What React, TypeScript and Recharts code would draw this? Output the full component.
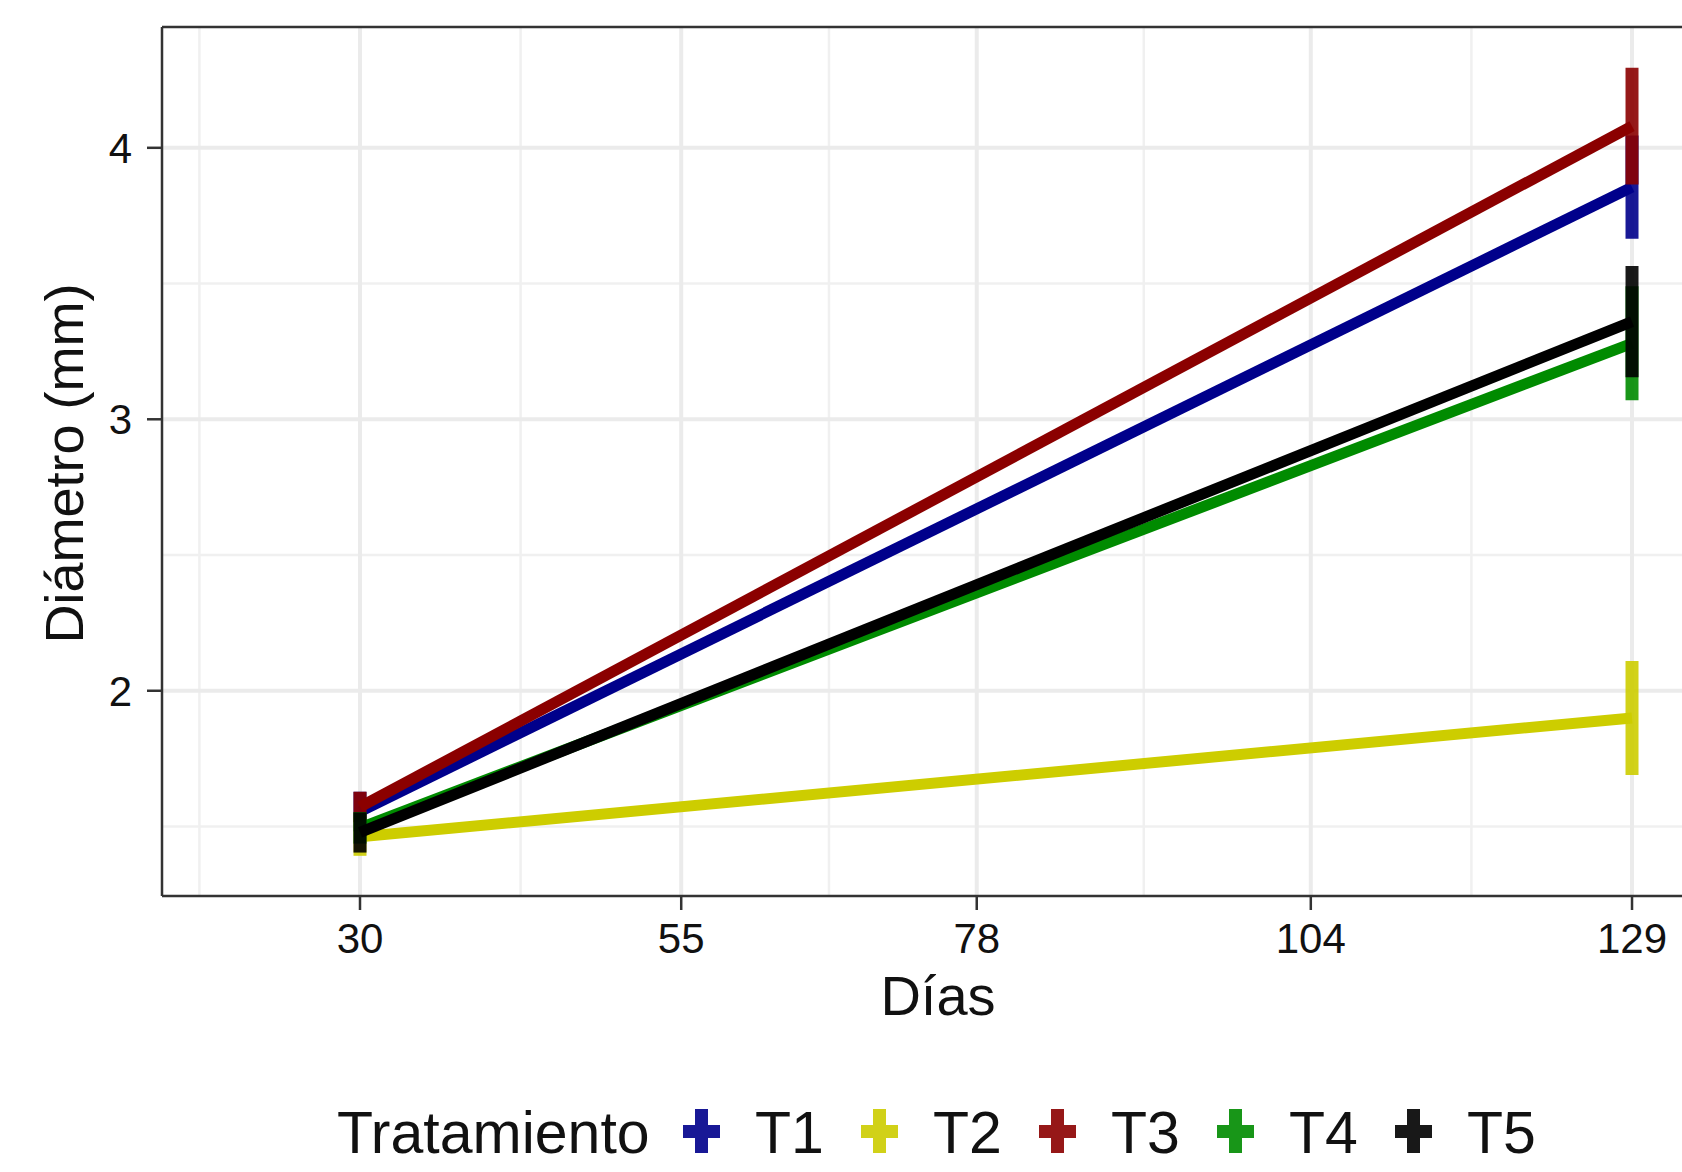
import React from 'react';
import { LineChart, Line, XAxis, YAxis, CartesianGrid, ErrorBar, ReferenceLine, Legend } from 'recharts';

const FONT = '"Liberation Sans", Arial, sans-serif';

// días de evaluación
const dias = [30, 129];

const tratamientos = ['T1', 'T2', 'T3', 'T4', 'T5'];
const colores = ['#00008B', '#CDCD00', '#8B0000', '#008B00', '#000000'];

// diámetro medio (mm) y su error, por tratamiento
const t1 = [1.555, 3.855];
const t1Err = [0.073, 0.19];
const t2 = [1.462, 1.9];
const t2Err = [0.07, 0.21];
const t3 = [1.572, 4.08];
const t3Err = [0.056, 0.215];
const t4 = [1.495, 3.28];
const t4Err = [0.058, 0.21];
const t5 = [1.478, 3.36];
const t5Err = [0.074, 0.205];

const medias = [t1, t2, t3, t4, t5];
const errores = [t1Err, t2Err, t3Err, t4Err, t5Err];

const xTicks = [30, 55, 78, 104, 129];
const xMinor = [17.5, 42.5, 66.5, 91, 116.5];
const yTicks = [2, 3, 4];
const yMinor = [1.5, 2.5, 3.5];

const X_DOMAIN: [number, number] = [14.59, 132.89];
const Y_DOMAIN: [number, number] = [1.244, 4.445];

const data = dias.map((d, i) => {
  const row: Record<string, number> = { dia: d };
  tratamientos.forEach((t, j) => {
    row[t] = medias[j][i];
    row[`${t}_err`] = errores[j][i];
  });
  return row;
});

const TituloY = ({ viewBox }: any) => {
  const cx = viewBox.x + 83;
  const cy = viewBox.y + viewBox.height / 2 + 2;
  return (
    <text x={cx} y={cy} transform={`rotate(-90 ${cx} ${cy})`} textAnchor="middle"
      fontFamily={FONT} fontSize={54} fill="#111">
      Diámetro (mm)
    </text>
  );
};

const TituloX = ({ viewBox }: any) => (
  <text x={viewBox.x + viewBox.width / 2 + 16} y={viewBox.y + 119} textAnchor="middle"
    fontFamily={FONT} fontSize={56} fill="#111">
    Días
  </text>
);

// clave en forma de cruz: línea horizontal + barra de error vertical
const Cruz = ({ color }: { color: string }) => (
  <svg width={37} height={44} style={{ opacity: 0.9, position: 'relative', top: -3, marginRight: 35, flex: 'none' }}>
    <rect x={0} y={16} width={37} height={13} fill={color} />
    <rect x={12} y={0} width={13} height={44} fill={color} />
  </svg>
);

const Leyenda = () => (
  <div style={{ display: 'flex', alignItems: 'center', fontFamily: FONT, fontSize: 59, lineHeight: '59px', color: '#111', whiteSpace: 'nowrap' }}>
    <span style={{ width: 346 }}>Tratamiento</span>
    {tratamientos.map((t, j) => (
      <span key={t} style={{ display: 'flex', alignItems: 'center', width: 178 }}>
        <Cruz color={colores[j]} />
        <span>{t}</span>
      </span>
    ))}
  </div>
);

export default function App() {
  return (
    <div style={{ position: 'absolute', left: 0, top: 0, width: 1682, height: 1172, overflow: 'hidden', background: '#fff' }}>
      <LineChart width={1682} height={1172} data={data} margin={{ top: 27, right: 0, bottom: 0, left: 0 }}>
        <CartesianGrid horizontalValues={yMinor} verticalValues={xMinor} stroke="#F0F0F0" strokeWidth={2.5} />
        <CartesianGrid horizontalValues={yTicks} verticalValues={xTicks} stroke="#EBEBEB" strokeWidth={4} />
        <XAxis
          type="number"
          dataKey="dia"
          domain={X_DOMAIN}
          ticks={xTicks}
          interval={0}
          allowDataOverflow
          height={276}
          tickSize={14}
          tickMargin={13}
          tick={{ fill: '#111', fontSize: 42, fontFamily: FONT }}
          tickLine={{ stroke: '#333', strokeWidth: 2.5 }}
          axisLine={{ stroke: '#333', strokeWidth: 2.5 }}
          label={<TituloX />}
        />
        <YAxis
          type="number"
          domain={Y_DOMAIN}
          ticks={yTicks}
          interval={0}
          allowDataOverflow
          width={162}
          tickSize={15}
          tickMargin={15}
          tick={{ fill: '#111', fontSize: 42, fontFamily: FONT }}
          tickLine={{ stroke: '#333', strokeWidth: 2.5 }}
          axisLine={{ stroke: '#333', strokeWidth: 2.5 }}
          label={<TituloY />}
        />
        {tratamientos.map((t, j) => (
          <Line
            key={t}
            type="linear"
            dataKey={t}
            stroke={colores[j]}
            strokeWidth={11}
            dot={false}
            activeDot={false}
            isAnimationActive={false}
          >
            <ErrorBar
              dataKey={`${t}_err`}
              width={0}
              direction="y"
              stroke={colores[j]}
              strokeWidth={13}
              strokeOpacity={0.9}
              isAnimationActive={false}
            />
          </Line>
        ))}
        <ReferenceLine y={Y_DOMAIN[1]} stroke="#333" strokeWidth={2.5} />
        <Legend
          layout="horizontal"
          verticalAlign="middle"
          align="center"
          wrapperStyle={{ left: 337, top: 1104, width: 'auto', height: 59 }}
          content={() => <Leyenda />}
        />
      </LineChart>
    </div>
  );
}
